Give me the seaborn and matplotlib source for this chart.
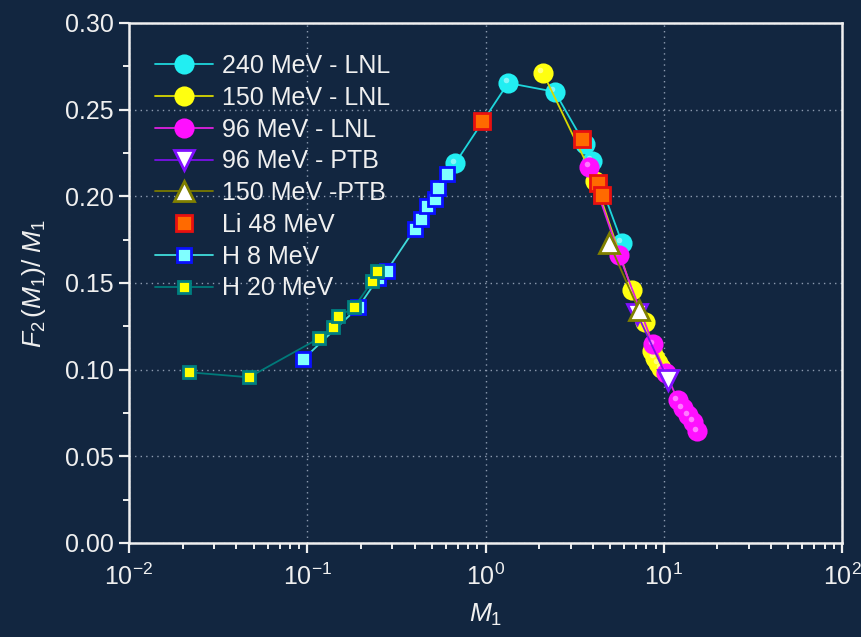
import numpy as np
import pandas as pd
import matplotlib
matplotlib.use("Agg")
import matplotlib.pyplot as plt
from matplotlib.ticker import LogLocator, MultipleLocator, LogFormatterSciNotation
from matplotlib.transforms import offset_copy
import seaborn as sns

# ---- data -------------------------------------------------------------
m1_240_lnl = [0.675, 1.34, 2.45, 3.61, 3.95, 5.83]
f2_240_lnl = [0.219, 0.2654, 0.2603, 0.230, 0.2205, 0.1733]

m1_150_lnl = [2.10, 4.11, 6.64, 7.85, 8.59, 8.93, 9.29, 9.66]
f2_150_lnl = [0.2712, 0.209, 0.1457, 0.1273, 0.111, 0.107, 0.1036, 0.1008]

m1_96_lnl = [3.81, 5.61, 8.71, 10.3, 12.0, 12.8, 13.7, 14.6, 15.4]
f2_96_lnl = [0.217, 0.1664, 0.1146, 0.0979, 0.0823, 0.0777, 0.0738, 0.0700, 0.0645]

m1_96_ptb = [7.08, 10.6]
f2_96_ptb = [0.1324, 0.0939]

m1_150_ptb = [4.93, 7.26]
f2_150_ptb = [0.1733, 0.1342]

m1_li48 = [0.956, 3.48, 4.27, 4.51]
f2_li48 = [0.2436, 0.2332, 0.2079, 0.2010]

m1_h8 = [0.0946, 0.193, 0.249, 0.280, 0.402, 0.434, 0.469, 0.521, 0.542, 0.608]
f2_h8 = [0.1059, 0.1359, 0.1526, 0.1572, 0.1814, 0.1871, 0.1946, 0.1987, 0.2050, 0.2130]

m1_h20 = [0.0217, 0.0471, 0.116, 0.139, 0.149, 0.183, 0.231, 0.246]
f2_h20 = [0.0985, 0.0956, 0.1180, 0.1244, 0.1307, 0.1359, 0.1509, 0.1572]

labels = ["240 MeV - LNL", "150 MeV - LNL", "96 MeV - LNL", "96 MeV - PTB",
          "150 MeV -PTB", "Li 48 MeV", "H 8 MeV", "H 20 MeV"]

# ---- style ------------------------------------------------------------
BG = "#122640"
FG = "#f0f0f0"
sns.set_theme(style="dark")
plt.rcParams["font.family"] = ["Liberation Sans", "DejaVu Sans"]
plt.rcParams["mathtext.fontset"] = "custom"
plt.rcParams["mathtext.rm"] = "Liberation Sans"
plt.rcParams["mathtext.it"] = "Liberation Sans:italic"
plt.rcParams["mathtext.bf"] = "Liberation Sans:bold"

fig = plt.figure(figsize=(8.61, 6.37), dpi=100, facecolor=BG)
ax = fig.add_axes([129 / 861, 94 / 637, 713 / 861, 520 / 637])
ax.set_facecolor(BG)

# series styling: (x, y, label, line colour, marker, size, face, edge, has line)
series = [
    (m1_240_lnl, f2_240_lnl, labels[0], "#1ed6dc", "o", 12.5, "#22eef2", "#22eef2", True),
    (m1_150_lnl, f2_150_lnl, labels[1], "#d8d800", "o", 12.5, "#ffff10", "#ffff10", True),
    (m1_96_lnl, f2_96_lnl, labels[2], "#e020e0", "o", 12.5, "#ff10ff", "#ff10ff", True),
    (m1_96_ptb, f2_96_ptb, labels[3], "#7a10e8", "v", 15, "white", "#8010ff", True),
    (m1_150_ptb, f2_150_ptb, labels[4], "#7a7a00", "^", 15, "white", "#808000", True),
    (m1_li48, f2_li48, labels[5], "none", "s", 11, "#ff6a00", "#e81010", False),
    (m1_h8, f2_h8, labels[6], "#40dcdc", "s", 10.5, "#80ffff", "#0a10ff", True),
    (m1_h20, f2_h20, labels[7], "#007a7a", "s", 8, "#ffff00", "#008080", True),
]

handles = []
for i, (x, y, lab, lc, mk, ms, fc, ec, has_line) in enumerate(series):
    df = pd.DataFrame({"M1": x, "F": y})
    z = 3 + i
    sns.lineplot(data=df, x="M1", y="F", ax=ax, sort=False, estimator=None,
                 color=lc if has_line else fc,
                 linestyle="-" if has_line else "none",
                 lw=1.3, marker=mk, markersize=ms,
                 markerfacecolor=fc, markeredgecolor=ec, markeredgewidth=2,
                 label=lab, zorder=z)
    handles.append(ax.lines[-1])
    if mk == "o":
        # small glint to give the balls a shaded look
        glint = offset_copy(ax.transData, fig=fig, x=-2.5, y=2.5, units="dots")
        ax.plot(x, y, "o", ms=4, color="white", alpha=0.45, mew=0,
                transform=glint, zorder=z + 0.1)

ax.set_xscale("log")
ax.set_xlim(1e-2, 1e2)
ax.set_ylim(0, 0.30)

ax.xaxis.set_major_locator(LogLocator(base=10, numticks=10))
ax.xaxis.set_minor_locator(LogLocator(base=10, subs=np.arange(2, 10), numticks=20))
ax.xaxis.set_major_formatter(LogFormatterSciNotation())
ax.yaxis.set_major_locator(MultipleLocator(0.05))
ax.yaxis.set_minor_locator(MultipleLocator(0.025))
ax.yaxis.set_major_formatter(matplotlib.ticker.FormatStrFormatter("%.2f"))

ax.grid(True, which="major", linestyle=(0, (1, 3)), color="#8d9bb0", lw=1.0)
ax.grid(False, which="minor")
ax.set_axisbelow(True)

for s in ax.spines.values():
    s.set_visible(True)
    s.set_color(FG)
    s.set_linewidth(1.8)

ax.tick_params(axis="both", which="major", direction="out", length=7, width=1.6,
               colors=FG, labelsize=18, labelcolor=FG, pad=4,
               bottom=True, left=True, top=False, right=False)
ax.tick_params(axis="both", which="minor", direction="out", length=4, width=1.4,
               colors=FG, bottom=True, left=True, top=False, right=False)
ax.tick_params(axis="x", which="major", pad=8)

ax.set_xlabel(r"$M_{\mathrm{1}}$", fontsize=19, color=FG, labelpad=8)
ax.set_ylabel(r"$F_{\mathrm{2}}\,(M_{\mathrm{1}})/\ M_{\mathrm{1}}$", fontsize=19,
              color=FG, labelpad=12)

leg = ax.legend(handles=handles, labels=labels, loc="upper left",
                bbox_to_anchor=(0.037, 0.94), frameon=False, fontsize=18,
                handlelength=2.3, handletextpad=0.35, labelspacing=0.31,
                borderpad=0, borderaxespad=0, numpoints=1)
for t in leg.get_texts():
    t.set_color(FG)

fig.savefig("out.png", dpi=100, facecolor=BG)
